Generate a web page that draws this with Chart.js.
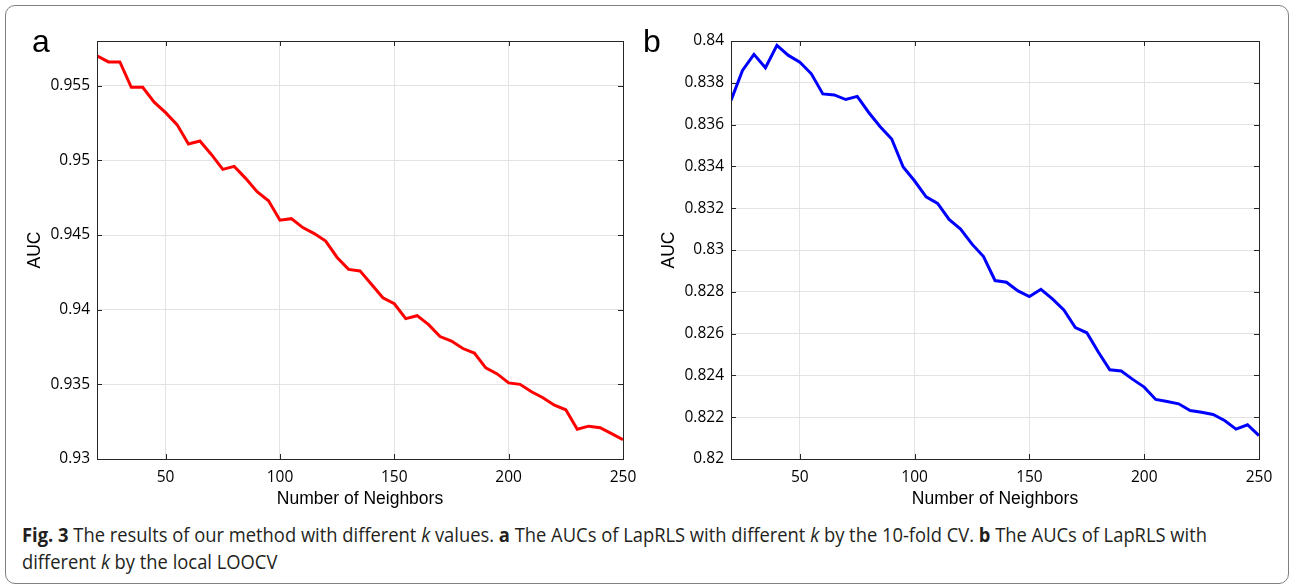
<!DOCTYPE html>
<html>
<head>
<meta charset="utf-8">
<script src="https://cdn.jsdelivr.net/npm/chart.js@4.4.1/dist/chart.umd.min.js"></script>
<style>
  body { margin: 0; background: #fff; width: 1289px; height: 585px; overflow: hidden; position: relative; }
  #frame {
    position: absolute; left: 5px; top: 5px; width: 1284px; height: 579px;
    box-sizing: border-box; border: 1.5px solid #808080; border-radius: 10px;
  }
  canvas { position: absolute; top: 0; }
  .panel-label {
    position: absolute; font-family: "Liberation Sans", Arial, sans-serif;
    font-size: 32px; line-height: 1; color: #000;
  }
  .caption-line {
    position: absolute; left: 22px; white-space: nowrap;
    font-family: "Open Sans", sans-serif; font-size: 19.5px; line-height: 26.5px;
    color: #231f20; transform-origin: 0 0;
  }
</style>
</head>
<body>
<div id="frame"></div>
<canvas id="chartA" width="640" height="520" style="left:0"></canvas>
<canvas id="chartB" width="649" height="520" style="left:640px"></canvas>
<div class="panel-label" style="left:32px;top:25px">a</div>
<div class="panel-label" style="left:643px;top:25px">b</div>
<div class="caption-line" id="cap1" style="top:522px"><b>Fig. 3</b> The results of our method with different <i>k</i> values. <b>a</b> The AUCs of LapRLS with different <i>k</i> by the 10-fold CV. <b>b</b> The AUCs of LapRLS with</div>
<div class="caption-line" id="cap2" style="top:548.5px">different <i>k</i> by the local LOOCV</div>
<script>
// number of neighbors k
const kValues = [20, 25, 30, 35, 40, 45, 50, 55, 60, 65, 70, 75, 80, 85, 90, 95,
  100, 105, 110, 115, 120, 125, 130, 135, 140, 145, 150, 155, 160, 165, 170, 175,
  180, 185, 190, 195, 200, 205, 210, 215, 220, 225, 230, 235, 240, 245, 250];

// (a) 10-fold CV
const aucCV = [0.9570, 0.9566, 0.9566, 0.9549, 0.9549, 0.9539, 0.9532, 0.9524,
  0.9511, 0.9513, 0.9504, 0.9494, 0.9496, 0.9488, 0.9479, 0.9473, 0.9460, 0.9461,
  0.9455, 0.9451, 0.9446, 0.9435, 0.9427, 0.9426, 0.9417, 0.9408, 0.9404, 0.9394,
  0.9396, 0.9390, 0.9382, 0.9379, 0.9374, 0.9371, 0.9361, 0.9357, 0.9351, 0.9350,
  0.9345, 0.9341, 0.9336, 0.9333, 0.9320, 0.9322, 0.9321, 0.9317, 0.9313];

// (b) local LOOCV
const aucLOOCV = [0.83715, 0.83859, 0.83936, 0.83872, 0.83979, 0.83931, 0.83899,
  0.83843, 0.83747, 0.83742, 0.83720, 0.83735, 0.83658, 0.83590, 0.83531, 0.83397,
  0.83330, 0.83254, 0.83223, 0.83146, 0.83100, 0.83028, 0.82969, 0.82854, 0.82846,
  0.82804, 0.82777, 0.82812, 0.82766, 0.82713, 0.82629, 0.82604, 0.82512, 0.82427,
  0.82421, 0.82381, 0.82344, 0.82285, 0.82275, 0.82264, 0.82232, 0.82224, 0.82213,
  0.82184, 0.82143, 0.82164, 0.82112];

const xTicks = [50, 100, 150, 200, 250];
const yTicksA = [0.93, 0.935, 0.94, 0.945, 0.95, 0.955];
const yTicksB = [0.82, 0.822, 0.824, 0.826, 0.828, 0.83, 0.832, 0.834, 0.836, 0.838, 0.84];

const AXIS_COLOR = "#262626";
const TICK_FONT = { family: "'Open Sans', sans-serif", size: 15.5 };
const TITLE_FONT = { family: "'Liberation Sans', Arial, sans-serif", size: 17.5 };

// matlab style box with inward ticks
const boxPlugin = {
  id: "matlabBox",
  afterDatasetsDraw(chart) {
    const { ctx, chartArea: a, scales } = chart;
    const len = 5;
    ctx.save();
    ctx.strokeStyle = AXIS_COLOR;
    ctx.lineWidth = 1;
    ctx.beginPath();
    scales.x.ticks.forEach((t) => {
      const px = Math.round(scales.x.getPixelForValue(t.value)) + 0.5;
      ctx.moveTo(px, a.bottom); ctx.lineTo(px, a.bottom - len);
      ctx.moveTo(px, a.top); ctx.lineTo(px, a.top + len);
    });
    scales.y.ticks.forEach((t) => {
      const py = Math.round(scales.y.getPixelForValue(t.value)) + 0.5;
      ctx.moveTo(a.left, py); ctx.lineTo(a.left + len, py);
      ctx.moveTo(a.right, py); ctx.lineTo(a.right - len, py);
    });
    ctx.stroke();
    ctx.strokeRect(Math.round(a.left) + 0.5, Math.round(a.top) + 0.5,
      Math.round(a.right - a.left), Math.round(a.bottom - a.top));
    ctx.restore();
  },
};

// fixed axis sizes so the plot boxes land where the figure has them
function fixSize(s, prop, size) {
  s[prop] = size;
  s.paddingLeft = 0;
  s.paddingRight = 0;
  s.paddingTop = 0;
  s.paddingBottom = 0;
}

function makeChart(id, values, color, yMin, yMax, yTicks, opts) {
  new Chart(document.getElementById(id), {
    type: "line",
    data: {
      datasets: [{
        data: kValues.map((k, i) => ({ x: k, y: values[i] })),
        borderColor: color,
        borderWidth: 3,
        pointRadius: 0,
        tension: 0,
        fill: false,
      }],
    },
    options: {
      responsive: false,
      animation: false,
      devicePixelRatio: 1,
      layout: { padding: { left: 0, top: 41, right: opts.right, bottom: 0 } },
      plugins: { legend: { display: false }, tooltip: { enabled: false } },
      scales: {
        x: {
          type: "linear",
          min: 20,
          max: 250,
          afterBuildTicks: (s) => { s.ticks = xTicks.map((v) => ({ value: v })); },
          afterFit: (s) => fixSize(s, "height", opts.xHeight),
          grid: { color: "#e3e3e3", lineWidth: 1, drawTicks: false },
          border: { display: false },
          ticks: {
            autoSkip: false, maxRotation: 0, padding: 9,
            color: "#000", font: TICK_FONT,
            callback: (v) => String(v),
          },
          title: {
            display: true, text: "Number of Neighbors", color: "#000",
            font: TITLE_FONT, padding: { top: 0, bottom: 10 },
          },
        },
        y: {
          min: yMin,
          max: yMax,
          afterBuildTicks: (s) => { s.ticks = yTicks.map((v) => ({ value: v })); },
          afterFit: (s) => fixSize(s, "width", opts.yWidth),
          grid: { color: "#e3e3e3", lineWidth: 1, drawTicks: false },
          border: { display: false },
          ticks: {
            padding: 7, color: "#000", font: TICK_FONT,
            callback: (v) => String(v),
          },
          title: {
            display: true, text: "AUC", color: "#000",
            font: TITLE_FONT, padding: { top: opts.yTitlePad, bottom: 0 },
          },
        },
      },
    },
    plugins: [boxPlugin],
  });
}

makeChart("chartA", aucCV, "#ff0000", 0.93, 0.958, yTicksA,
  { right: 17, xHeight: 61, yWidth: 97, yTitlePad: 25 });
makeChart("chartB", aucLOOCV, "#0000ff", 0.82, 0.84, yTicksB,
  { right: 30, xHeight: 61, yWidth: 91, yTitlePad: 19 });

// squeeze caption to the width of the original condensed face
function fitCaption() {
  const l1 = document.getElementById("cap1");
  const l2 = document.getElementById("cap2");
  const w = l1.getBoundingClientRect().width;
  const s = 1185 / w;
  l1.style.transform = `scaleX(${s})`;
  l2.style.transform = `scaleX(${s})`;
}
fitCaption();
</script>
</body>
</html>
